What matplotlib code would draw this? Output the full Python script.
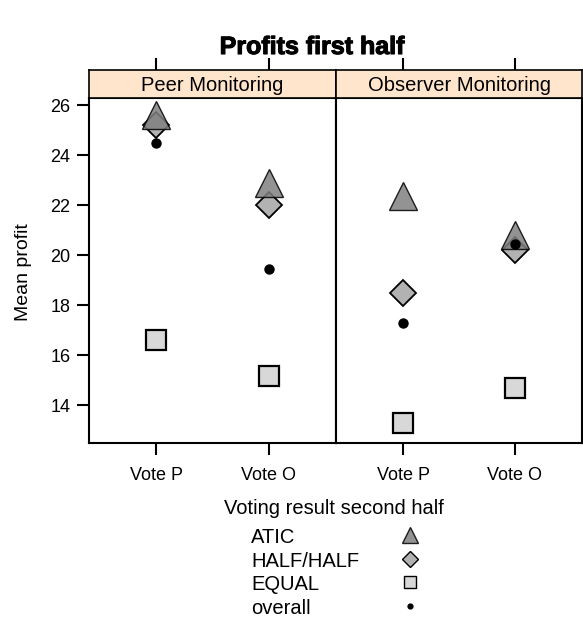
import matplotlib
matplotlib.use("Agg")
import matplotlib.pyplot as plt
import matplotlib.patheffects as pe
from matplotlib.lines import Line2D

plt.rcParams['font.family'] = ['Liberation Sans', 'DejaVu Sans']

# mean profit per panel, by voting result
panels = ["Peer Monitoring", "Observer Monitoring"]
groups = ["Vote P", "Vote O"]
atic = [[25.6, 22.9], [22.35, 20.8]]
half_half = [[25.2, 22.0], [18.5, 20.2]]
equal = [[16.6, 15.15], [13.3, 14.7]]
overall = [[24.5, 19.45], [17.3, 20.45]]

yticks = [14, 16, 18, 20, 22, 24, 26]

W, H = 583, 619
fig = plt.figure(figsize=(W / 100, H / 100), dpi=100)

def fx(px):
    return px / W

def fy(py):
    return 1 - py / H

styles = {
    "ATIC": dict(marker="^", ms=19.5, mfc="#808080", mec="black", mew=1.0, alpha=0.85),
    "HALF/HALF": dict(marker="D", ms=13, mfc="#b2b2b2", mec="black", mew=1.3),
    "EQUAL": dict(marker="s", ms=14, mfc="#d8d8d8", mec="black", mew=1.6),
    "overall": dict(marker="o", ms=7.5, mfc="black", mec="black", mew=0),
}
series = {"ATIC": atic, "HALF/HALF": half_half, "EQUAL": equal, "overall": overall}
draw_order = ["HALF/HALF", "EQUAL", "ATIC", "overall"]

left_edges = [89, 336]
right_edges = [336, 582]
top, bottom, strip_top = 98, 443, 70

x = [1, 2]
for i, name in enumerate(panels):
    ax = fig.add_axes([fx(left_edges[i]), fy(bottom),
                       fx(right_edges[i] - left_edges[i]), (bottom - top) / H])
    for key in draw_order:
        ax.plot(x, series[key][i], linestyle="none", **styles[key])
    ax.set_xlim(0.4, 2.6)
    ax.set_ylim(12.48, 26.28)
    ax.set_xticks(x)
    ax.set_xticklabels(groups, fontsize=13)
    ax.tick_params(axis="x", length=8.5, width=1.5, pad=9)
    if i == 0:
        ax.set_yticks(yticks)
        ax.set_yticklabels([str(t) for t in yticks], fontsize=13)
        ax.tick_params(axis="y", length=8.5, width=1.5, pad=5)
    else:
        ax.set_yticks([])
    for sp in ax.spines.values():
        sp.set_linewidth(1.5)

    # strip with panel name and top ticks
    st = fig.add_axes([fx(left_edges[i]), fy(top),
                       fx(right_edges[i] - left_edges[i]), (top - strip_top) / H])
    st.set_facecolor("#ffe5cc")
    st.set_xlim(0.4, 2.6)
    st.set_ylim(0, 1)
    st.set_xticks(x)
    st.tick_params(axis="x", top=True, bottom=False, labeltop=False,
                   labelbottom=False, length=8.5, width=1.5)
    st.set_yticks([])
    for sp in st.spines.values():
        sp.set_linewidth(1.2)
    st.text(0.5, 0.45, name, transform=st.transAxes, ha="center", va="center",
            fontsize=14.5)

fig.text(fx(312), fy(47), "Profits first half", ha="center", va="center",
         fontsize=18, fontweight="heavy",
         path_effects=[pe.withStroke(linewidth=0.8, foreground="black")])
fig.text(fx(24), fy(272), "Mean profit", ha="center", va="center",
         rotation=90, fontsize=14)

# key below the panels
fig.text(fx(334), fy(509), "Voting result second half", ha="center",
         va="center", fontsize=14.5)
key_labels = ["ATIC", "HALF/HALF", "EQUAL", "overall"]
key_sizes = {"ATIC": 11.5, "HALF/HALF": 8, "EQUAL": 8.5, "overall": 4.5}
for j, key in enumerate(key_labels):
    yb = 543 + j * 23.7
    fig.text(fx(251), fy(yb), key, ha="left", va="baseline", fontsize=14.5)
    st_k = dict(styles[key])
    st_k["ms"] = key_sizes[key]
    st_k["mew"] = 1.0 if key != "overall" else 0
    fig.add_artist(Line2D([fx(410)], [fy(yb - 8)], transform=fig.transFigure,
                          linestyle="none", **st_k))

fig.savefig("out.png", dpi=100)
